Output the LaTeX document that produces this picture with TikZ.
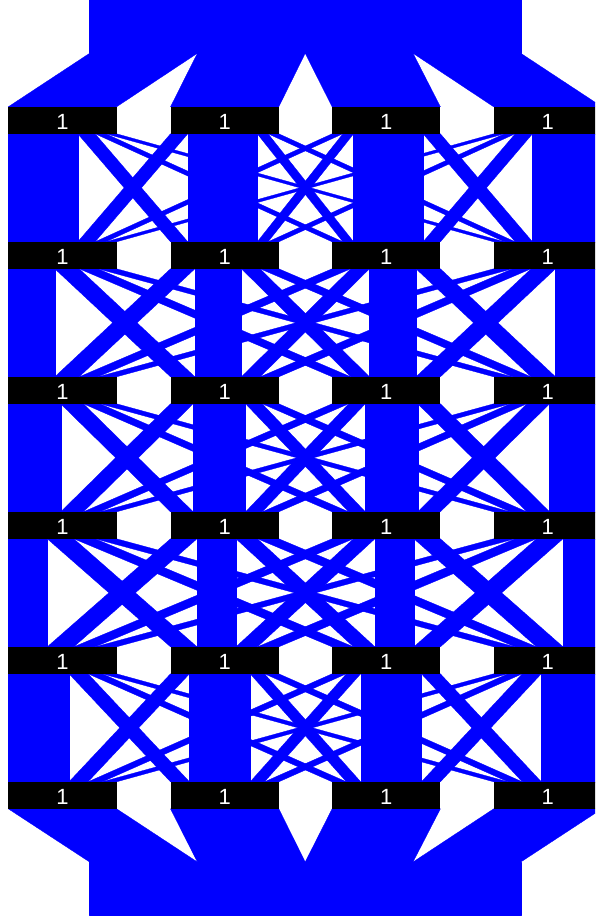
\documentclass[tikz,border=0pt]{standalone}
\usepackage{fontspec}
\newfontfamily\barfont{Liberation Sans}
\begin{document}
\begin{tikzpicture}[x=1pt,y=-1pt,
  flow/.style={fill=blue,draw=blue,line width=0.3pt,line join=round},
  bar/.style={fill=black,draw=none,minimum width=108.3pt,minimum height=27pt,inner sep=0pt},
  barlabel/.style={text=white,inner sep=0pt,font=\barfont\fontsize{22}{22}\selectfont}]
\useasboundingbox (0,0) rectangle (595,920);
\clip (0,0) rectangle (595,920);
% inflow block (top) and outflow block (bottom)
\fill[flow] (89.6,-5) rectangle (520.8,53.3);
\fill[flow] (89.6,862) rectangle (520.8,915.3);
\foreach \c in {1,...,4}{
  \pgfmathsetmacro\L{{8.3,170.5,332.1,493.7}[\c-1]}
  \pgfmathsetmacro\sa{89.6+107.8*(\c-1)}
  \pgfmathsetmacro\sb{89.6+107.8*\c}
  \fill[flow] (\sa,53.3) -- (\sb,53.3) -- (\L+108.3,106.8) -- (\L,106.8) -- cycle;
  \fill[flow] (\L,808.8) -- (\L+108.3,808.8) -- (\sb,862) -- (\sa,862) -- cycle;
}
% layers of flows between rows
\foreach \k/\d/\p/\q in {1/69.5/17.3/10.75,2/46.5/24.4/18.7,3/52.4/22.7/16.6,4/39/26.5/21.4,5/60.7/19/14.3}{
  \pgfmathsetmacro\yb{133.8+135*(\k-1)}
  \pgfmathsetmacro\yt{106.8+135*\k}
  \pgfmathsetmacro\dp{\d+\p}
  \pgfmathsetmacro\dpq{\d+\p+\q}
  \pgfmathsetmacro\qq{2*\q}
  \pgfmathsetmacro\qqd{2*\q+\d}
  \pgfmathsetmacro\qqp{2*\q+\p}
  \foreach \i in {1,...,4}{
    \foreach \j in {1,...,4}{
      \pgfmathsetmacro\w{{\d,\p,\q,\q,\p,\d,\q,\q,\q,\q,\d,\p,\q,\q,\p,\d}[4*(\i-1)+\j-1]}
      \pgfmathsetmacro\La{{8.3,170.5,332.1,493.7}[\i-1]}
      \pgfmathsetmacro\Lb{{8.3,170.5,332.1,493.7}[\j-1]}
      \pgfmathsetmacro\oa{{0,\d,\dp,\dpq,0,\p,\dp,\dpq,0,\q,\qq,\qqd,0,\q,\qq,\qqp}[4*(\i-1)+\j-1]}
      \pgfmathsetmacro\ob{{0,\d,\dp,\dpq,0,\p,\dp,\dpq,0,\q,\qq,\qqd,0,\q,\qq,\qqp}[4*(\j-1)+\i-1]}
      \pgfmathsetmacro\xa{\La+\oa}
      \pgfmathsetmacro\xb{\Lb+\ob}
      \fill[flow] (\xa,\yb) -- (\xa+\w,\yb) -- (\xb+\w,\yt) -- (\xb,\yt) -- cycle;
    }
  }
}
% bars
\foreach \r in {0,...,5}{
  \foreach \c in {1,...,4}{
    \pgfmathsetmacro\cx{{8.3,170.5,332.1,493.7}[\c-1]+54.15}
    \node[bar] (b\r\c) at (\cx,120.3+135*\r) {};
    \node[barlabel] at ([yshift=-1.5pt]b\r\c.center) {1};
  }
}
\end{tikzpicture}
\end{document}
